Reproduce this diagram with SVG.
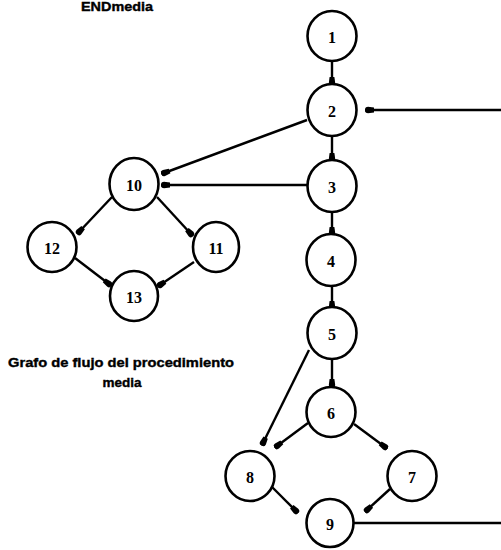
<svg xmlns="http://www.w3.org/2000/svg" width="501" height="550" viewBox="0 0 501 550">
  <style>
    .node ellipse { fill: #fff; stroke: #000; stroke-width: 2.6; }
    .node text { font-family: "Liberation Serif", serif; font-weight: bold; font-size: 16px; text-anchor: middle; dominant-baseline: central; fill: #000; }
    .edges line { stroke: #000; stroke-width: 2.4; marker-end: url(#dot); }
    .edges line.plain { marker-end: none; }
    .caption { font-family: "Liberation Sans", sans-serif; font-weight: bold; font-size: 13.5px; fill: #000; stroke: #000; stroke-width: 0.4; text-anchor: middle; }
  </style>
  <defs>
    <marker id="dot" viewBox="-7 -5 10 10" markerWidth="10" markerHeight="10" markerUnits="userSpaceOnUse" refX="0" refY="0" orient="auto">
      <path d="M-6,-2.4 L0,-3.2 A3.2,3.2 0 0 1 0,3.2 L-6,2.4 Z" fill="#000"/>
    </marker>
  </defs>

  <rect width="501" height="550" fill="#fff"/>

  <text class="caption" x="117" y="11" textLength="72" lengthAdjust="spacingAndGlyphs">ENDmedia</text>
  <text class="caption" x="121" y="367" textLength="226" lengthAdjust="spacingAndGlyphs">Grafo de flujo del procedimiento</text>
  <text class="caption" x="122" y="387">media</text>

  <g class="edges">
    <line x1="332" y1="62" x2="332" y2="83"/>
    <line x1="332" y1="136" x2="332" y2="159"/>
    <line x1="332" y1="212" x2="332" y2="233"/>
    <line x1="332" y1="287" x2="332" y2="307"/>
    <line x1="332" y1="359" x2="332" y2="385"/>
    <line x1="307" y1="120" x2="164" y2="173"/>
    <line x1="307" y1="185" x2="164" y2="185"/>
    <line x1="501" y1="110" x2="368" y2="110"/>
    <line x1="112" y1="197" x2="79" y2="232"/>
    <line x1="157" y1="197" x2="191" y2="234"/>
    <line x1="75" y1="258" x2="109" y2="284"/>
    <line x1="194" y1="262" x2="160" y2="285"/>
    <line x1="309" y1="350" x2="263" y2="443"/>
    <line x1="308" y1="423" x2="277" y2="446"/>
    <line x1="354" y1="424" x2="385" y2="447"/>
    <line x1="272" y1="487" x2="296" y2="511"/>
    <line x1="390" y1="489" x2="367" y2="510"/>
    <line class="plain" x1="354" y1="523" x2="501" y2="523"/>
  </g>

  <g id="n1" class="node"><ellipse cx="332" cy="36" rx="24.5" ry="25"/><text x="332" y="37">1</text></g>
  <g id="n2" class="node"><ellipse cx="332" cy="110" rx="24.5" ry="26"/><text x="332" y="111">2</text></g>
  <g id="n3" class="node"><ellipse cx="332" cy="186" rx="24.5" ry="26"/><text x="332" y="187">3</text></g>
  <g id="n4" class="node"><ellipse cx="331" cy="260" rx="24.5" ry="26"/><text x="331" y="261">4</text></g>
  <g id="n5" class="node"><ellipse cx="332" cy="333" rx="24.5" ry="26"/><text x="332" y="334">5</text></g>
  <g id="n6" class="node"><ellipse cx="331" cy="412" rx="24.5" ry="25"/><text x="331" y="413">6</text></g>
  <g id="n7" class="node"><ellipse cx="412" cy="476" rx="24.5" ry="25"/><text x="412" y="477">7</text></g>
  <g id="n8" class="node"><ellipse cx="250" cy="476" rx="24.5" ry="25"/><text x="250" y="477">8</text></g>
  <g id="n9" class="node"><ellipse cx="330" cy="523" rx="23.5" ry="24"/><text x="330" y="524">9</text></g>
  <g id="n10" class="node"><ellipse cx="134" cy="184" rx="24.5" ry="26"/><text x="134" y="185">10</text></g>
  <g id="n11" class="node"><ellipse cx="216" cy="247" rx="23" ry="25"/><text x="216" y="248">11</text></g>
  <g id="n12" class="node"><ellipse cx="52" cy="247" rx="24.5" ry="25"/><text x="52" y="248">12</text></g>
  <g id="n13" class="node"><ellipse cx="134" cy="296" rx="24" ry="25"/><text x="134" y="297">13</text></g>
</svg>
